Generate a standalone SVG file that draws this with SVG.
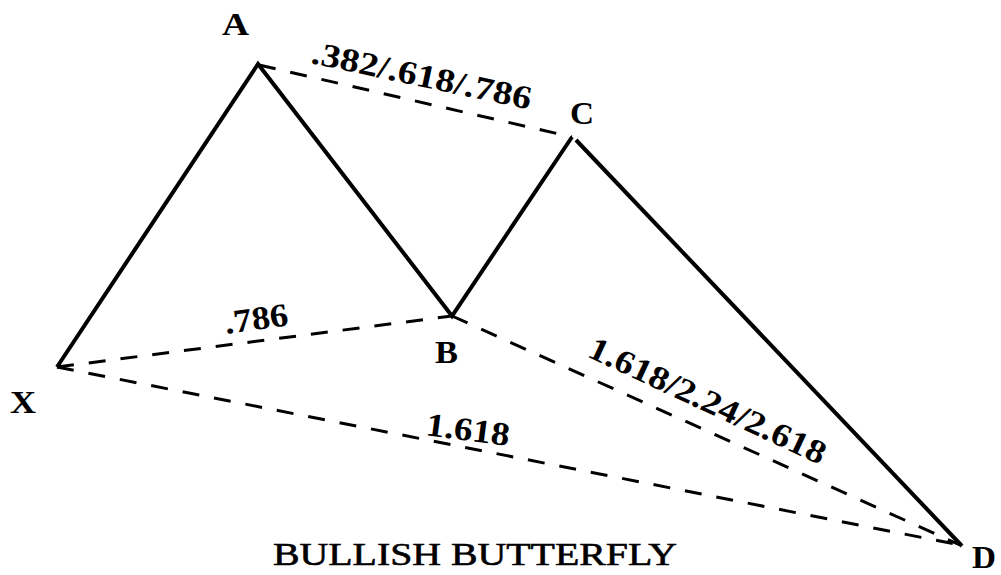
<svg xmlns="http://www.w3.org/2000/svg" width="1001" height="575" viewBox="0 0 1001 575">
<style>
.solid{fill:none;stroke:#000;stroke-width:4;stroke-linecap:butt;stroke-linejoin:miter}
.dash{fill:none;stroke:#000;stroke-width:3;stroke-dasharray:17 15}
text{font-family:'Liberation Serif',Tinos,'Times New Roman',Times,serif;fill:#000}
.pt{font-weight:bold;font-size:31px}
.lbl{font-weight:bold;font-size:33px}
.title{font-weight:normal;font-size:32px;stroke:#000;stroke-width:0.6}
</style>
<rect width="1001" height="575" fill="#fff"/>
<g id="connectors">
<line class="dash" x1="259" y1="65" x2="572" y2="137"/>
<line class="dash" x1="57" y1="367" x2="452" y2="316"/>
<line class="dash" x1="452" y1="316" x2="960" y2="545"/>
<line class="dash" x1="57" y1="367" x2="960" y2="545"/>
<polyline class="solid" points="57,367 258,64 452,316 572,137"/>
<line class="solid" x1="576" y1="140" x2="962" y2="546"/>
</g>
<g id="node-X"><text class="pt" x="10" y="413" textLength="26" lengthAdjust="spacingAndGlyphs">X</text></g>
<g id="node-A"><text class="pt" x="222" y="35" textLength="27" lengthAdjust="spacingAndGlyphs">A</text></g>
<g id="node-B"><text class="pt" x="435" y="363" textLength="23" lengthAdjust="spacingAndGlyphs">B</text></g>
<g id="node-C"><text class="pt" x="570" y="124" textLength="24" lengthAdjust="spacingAndGlyphs">C</text></g>
<g id="node-D"><text class="pt" x="972" y="568" textLength="24" lengthAdjust="spacingAndGlyphs">D</text></g>
<g id="labels">
<text class="lbl" transform="translate(310,63) rotate(12)" textLength="224" lengthAdjust="spacingAndGlyphs">.382/.618/.786</text>
<text class="lbl" transform="translate(226,334) rotate(-8)" textLength="64" lengthAdjust="spacingAndGlyphs">.786</text>
<text class="lbl" transform="translate(586,356) rotate(25)" textLength="258" lengthAdjust="spacingAndGlyphs">1.618/2.24/2.618</text>
<text class="lbl" transform="translate(425,435) rotate(7.5)" textLength="84" lengthAdjust="spacingAndGlyphs">1.618</text>
</g>
<g id="title"><text class="title" x="273" y="565" textLength="404" lengthAdjust="spacingAndGlyphs">BULLISH BUTTERFLY</text></g>
</svg>
